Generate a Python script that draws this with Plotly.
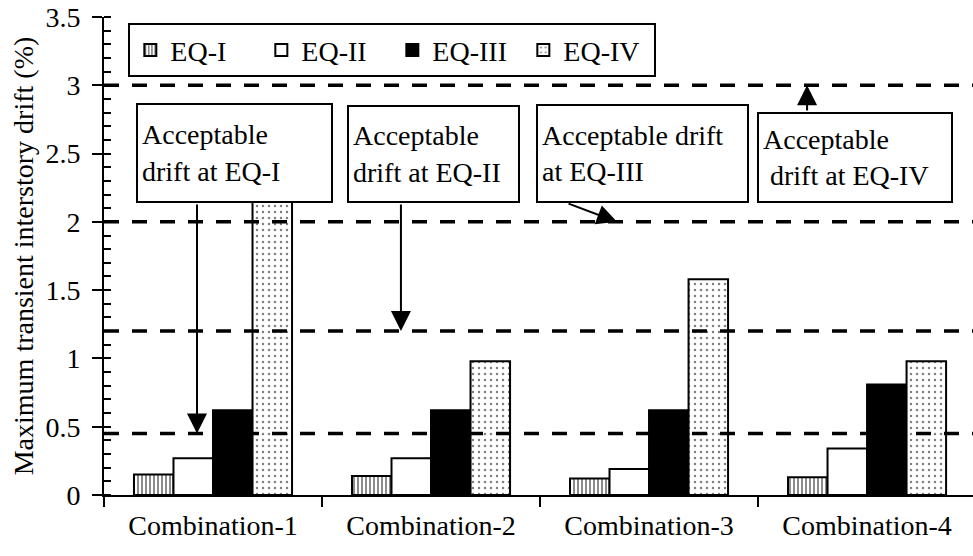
import plotly.graph_objects as go

# ---- data ----
categories = ["Combination-1", "Combination-2", "Combination-3", "Combination-4"]
series_names = ["EQ-I", "EQ-II", "EQ-III", "EQ-IV"]
eq1 = [0.15, 0.14, 0.12, 0.13]
eq2 = [0.27, 0.27, 0.19, 0.34]
eq3 = [0.62, 0.62, 0.62, 0.81]
eq4 = [2.30, 0.98, 1.58, 0.98]
acceptable_drift = [0.45, 1.2, 2.0, 3.0]   # EQ-I .. EQ-IV
y_ticks = [0, 0.5, 1, 1.5, 2, 2.5, 3, 3.5]

FONT = "Times New Roman, Liberation Serif, serif"
FS = 28

styles = [
    dict(color="white", pattern=dict(shape="|", fgcolor="black", bgcolor="white", size=4, solidity=0.45)),
    dict(color="white"),
    dict(color="black"),
    dict(color="white", pattern=dict(shape=".", fgcolor="black", bgcolor="white", size=6, solidity=0.14)),
]

fig = go.Figure()
for name, vals, st in zip(series_names, [eq1, eq2, eq3, eq4], styles):
    fig.add_trace(go.Bar(
        x=categories, y=vals, name=name,
        marker=dict(line=dict(color="black", width=2), **st),
    ))

# dashed acceptable drift lines
for v in acceptable_drift:
    fig.add_shape(type="line", xref="paper", yref="y", x0=0, x1=1, y0=v, y1=v,
                  line=dict(color="black", width=3.5, dash="15px,13px"), layer="above")

# text boxes: (left x in category units, top y, width, height, text)
boxes = [
    (-0.353, 2.87, 185, 88, "Acceptable<br>drift at EQ-I"),
    (0.615, 2.855, 161, 86, "Acceptable<br>drift at EQ-II"),
    (1.482, 2.862, 201, 87, "Acceptable drift<br>at EQ-III"),
    (2.495, 2.804, 184, 79, "Acceptable<br>\u00a0drift at EQ-IV"),
]
for bx, by, w, h, t in boxes:
    fig.add_annotation(x=bx, y=by, xref="x", yref="y", xanchor="left", yanchor="top",
                       text=t, showarrow=False, align="left", valign="middle",
                       width=w, height=h, bgcolor="white", bordercolor="black",
                       borderwidth=2, borderpad=4,
                       font=dict(family=FONT, size=FS, color="black"))

# arrows: (tail x, tail y, head x, index of limit)
arrows = [
    (-0.0734, 2.138, -0.0734, 0),
    (0.862, 2.138, 0.862, 1),
    (1.624, 2.138, 1.853, 2),
    (2.725, 2.804, 2.725, 3),
]
for tx, ty, hx, i in arrows:
    fig.add_annotation(x=hx, y=acceptable_drift[i], ax=tx, ay=ty, xref="x", yref="y",
                       axref="x", ayref="y", text="", showarrow=True,
                       arrowhead=2, arrowsize=2, arrowwidth=2, arrowcolor="black",
                       standoff=0, startstandoff=0)

fig.update_layout(
    width=973, height=556,
    margin=dict(l=104, r=0, t=17, b=61, autoexpand=False),
    paper_bgcolor="white", plot_bgcolor="white",
    barmode="group", bargap=0.275, bargroupgap=0,
    font=dict(family=FONT, size=FS, color="black"),
    showlegend=True,
    legend=dict(orientation="h", x=0.028, y=0.987, xanchor="left", yanchor="top",
                bordercolor="black", borderwidth=2, bgcolor="white",
                font=dict(family=FONT, size=FS, color="black"),
                entrywidth=86, entrywidthmode="pixels", traceorder="normal"),
)
fig.update_xaxes(
    range=[-0.5, 3.486], showline=True, linecolor="black", linewidth=2, automargin=False,
    ticks="outside", tickson="boundaries", ticklen=10, tickwidth=2, tickcolor="black",
    ticklabelstandoff=4,
    showgrid=False, zeroline=False, tickfont=dict(family=FONT, size=FS, color="black"),
)
fig.update_yaxes(
    range=[0, 3.5], tickvals=y_ticks, ticktext=[f"{v:g}" for v in y_ticks],
    showline=True, linecolor="black", linewidth=2, automargin=False,
    ticks="outside", ticklen=10, tickwidth=2, tickcolor="black",
    ticklabelstandoff=6,
    minor=dict(ticks="inside", ticklen=7, tickwidth=1.5, tickcolor="black", dtick=0.1, showgrid=False),
    showgrid=False, zeroline=False,
    title=dict(text="Maximum transient interstory drift (%)", standoff=4,
               font=dict(family=FONT, size=FS, color="black")),
    tickfont=dict(family=FONT, size=FS, color="black"),
)

fig.write_html("out.html", config={"displayModeBar": False},
               post_script="document.body.style.margin='0';document.body.style.overflow='hidden';")
